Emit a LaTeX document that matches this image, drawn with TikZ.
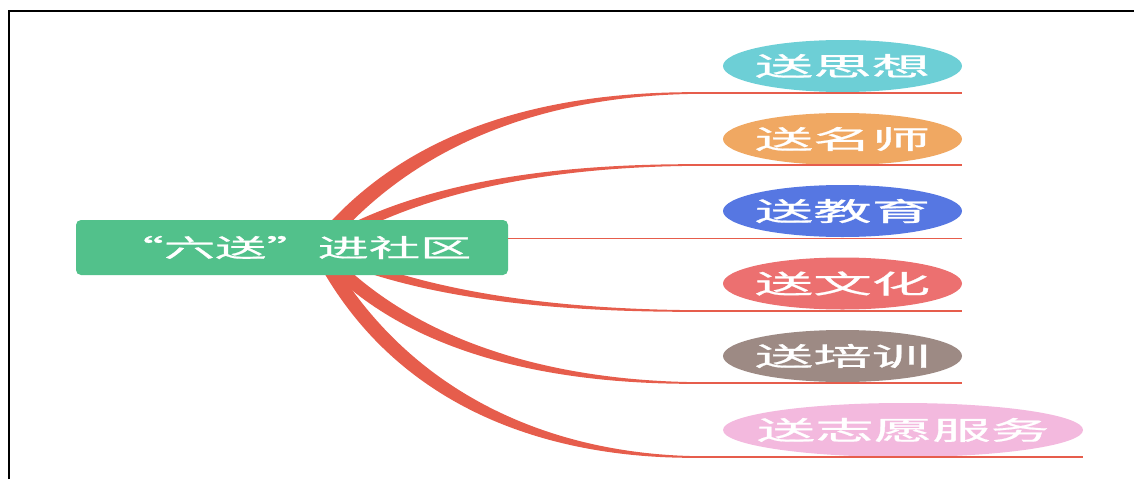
\documentclass[tikz,border=0pt]{standalone}
\usepackage{graphicx}
\usepackage{fontspec}
\newfontfamily\cjk[FakeBold=0.7]{Noto Sans CJK SC}
\usetikzlibrary{shapes.geometric,backgrounds}
\definecolor{rootgreen}{HTML}{52C18B}
\definecolor{branchred}{HTML}{E65D4C}
\definecolor{cyanleaf}{HTML}{6DCFD6}
\definecolor{orangeleaf}{HTML}{F0A862}
\definecolor{blueleaf}{HTML}{5677E2}
\definecolor{redleaf}{HTML}{EC7070}
\definecolor{taupeleaf}{HTML}{9D8A84}
\definecolor{pinkleaf}{HTML}{F3B9DE}
\tikzset{
  leaf/.style={ellipse, inner sep=0pt, minimum width=239pt, minimum height=52pt,
    text=white, font=\cjk\fontsize{26}{26}\selectfont},
  rootbox/.style={rectangle, rounded corners=5pt, fill=rootgreen, minimum width=432pt,
    minimum height=55pt, inner sep=0pt, text=white, font=\cjk\fontsize{25}{25}\selectfont},
  uline/.style={draw=branchred, line width=1.2pt},
  branchfill/.style={fill=branchred},
  frameline/.style={line width=2pt, draw=black},
}
\newcommand\stretchtext[2]{\makebox[0pt]{\scalebox{#1}[1]{#2}}}
\newcommand\taperbranch[8]{%
  \fill[branchfill] ([yshift=#5]#1) .. controls ([yshift=#6]#2) and ([yshift=#7]#3) .. ([yshift=#8]#4)
    -- ([yshift=-#8]#4) .. controls ([yshift=-#7]#3) and ([yshift=-#6]#2) .. ([yshift=-#5]#1) -- cycle;}
\begin{document}
\begin{tikzpicture}[x=1pt,y=-1pt]
\useasboundingbox (0,0) rectangle (1134,479);
\draw[frameline] (9,479) -- (9,11) -- (1134,11);

\node[rootbox] (root) at (292,247.5) {\scalebox{2.05}[1]{“六送”进社区}};

\node[leaf, fill=cyanleaf] (l1) at (842.5,66) {\stretchtext{2.25}{送思想}};
\node[leaf, fill=orangeleaf] (l2) at (842.5,139) {\stretchtext{2.25}{送名师}};
\node[leaf, fill=blueleaf] (l3) at (842.5,211) {\stretchtext{2.25}{送教育}};
\node[leaf, fill=redleaf] (l4) at (842.5,283.5) {\stretchtext{2.25}{送文化}};
\node[leaf, fill=taupeleaf] (l5) at (842.5,356) {\stretchtext{2.25}{送培训}};
\node[leaf, fill=pinkleaf, minimum width=360pt, minimum height=54pt] (l6) at (903,430) {\stretchtext{2.25}{送志愿服务}};

\coordinate (o) at (318,248);
\coordinate (e1) at (700,93);
\coordinate (e2) at (700,165);
\coordinate (e3) at (700,238.5);
\coordinate (e4) at (700,311);
\coordinate (e5) at (700,383);
\coordinate (e6) at (700,457);

\begin{scope}[on background layer]
  \taperbranch{o}{405,139.5}{540,93}{e1}{12pt}{7.5pt}{2pt}{0.8pt}
  \taperbranch{o}{410,189.9}{540,165}{e2}{6.5pt}{4.5pt}{1.5pt}{0.8pt}
  \taperbranch{o}{410,292.1}{540,311}{e4}{5.5pt}{4pt}{1.5pt}{0.8pt}
  \taperbranch{o}{400,342.5}{540,383}{e5}{10pt}{7pt}{2pt}{0.8pt}
  \taperbranch{o}{395,394.3}{540,457}{e6}{14pt}{9pt}{2.5pt}{0.8pt}
\end{scope}

\draw[uline] (e1) -- (e1 -| l1.east);
\draw[uline] (e2) -- (e2 -| l2.east);
\draw[uline, line width=1.5pt] (root.east |- e3) -- (e3 -| l3.east);
\draw[uline] (e4) -- (e4 -| l4.east);
\draw[uline] (e5) -- (e5 -| l5.east);
\draw[uline] (e6) -- (e6 -| l6.east);
\end{tikzpicture}
\end{document}
